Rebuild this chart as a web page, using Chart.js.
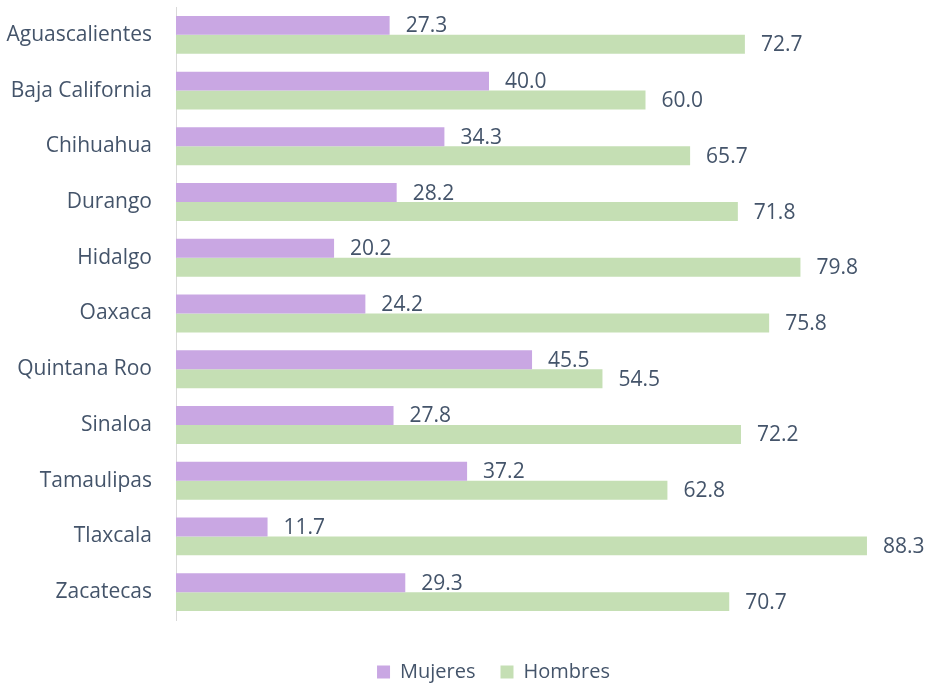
<!DOCTYPE html>
<html>
<head>
<meta charset="utf-8">
<script src="https://cdn.jsdelivr.net/npm/chart.js@4.4.0/dist/chart.umd.min.js"></script>
<style>
html,body{margin:0;padding:0;background:#fff;}
#wrap{width:928px;height:686px;position:relative;}
</style>
</head>
<body>
<div id="wrap"><canvas id="c" width="928" height="686"></canvas></div>
<script>
const categories = ["Aguascalientes","Baja California","Chihuahua","Durango","Hidalgo","Oaxaca","Quintana Roo","Sinaloa","Tamaulipas","Tlaxcala","Zacatecas"];
const mujeres = [27.3,40.0,34.3,28.2,20.2,24.2,45.5,27.8,37.2,11.7,29.3];
const hombres = [72.7,60.0,65.7,71.8,79.8,75.8,54.5,72.2,62.8,88.3,70.7];
const seriesNames = ["Mujeres","Hombres"];

const TEXT = '#44546A';
const FONT = "'Open Sans', 'Liberation Sans', sans-serif";

const labelPlugin = {
  id: 'valueLabels',
  afterLayout(chart) {
    const lg = chart.legend;
    lg.left = 59; lg.right = 928; lg.width = 869;
  },
  afterDatasetsDraw(chart) {
    const ctx = chart.ctx;
    ctx.save();
    ctx.font = '21px ' + FONT;
    ctx.fillStyle = TEXT;
    ctx.textAlign = 'left';
    ctx.textBaseline = 'middle';
    chart.data.datasets.forEach((ds, di) => {
      const meta = chart.getDatasetMeta(di);
      meta.data.forEach((el, i) => {
        ctx.fillText(ds.data[i].toFixed(1), el.x + 16, el.y + 1);
      });
    });
    ctx.restore();
  }
};

new Chart(document.getElementById('c'), {
  type: 'bar',
  data: {
    labels: categories,
    datasets: [
      { label: seriesNames[0], data: mujeres, backgroundColor: '#C9A7E3', borderWidth: 0 },
      { label: seriesNames[1], data: hombres, backgroundColor: '#C5DFB4', borderWidth: 0 }
    ]
  },
  options: {
    indexAxis: 'y',
    responsive: false,
    animation: false,
    layout: { padding: { left: 0, right: 0, top: 7, bottom: -6 } },
    datasets: { bar: { barPercentage: 1, categoryPercentage: 0.68 } },
    scales: {
      x: {
        display: true, min: 0, max: 96.1,
        afterFit: (s) => { s.height = 17; s.paddingLeft = 0; s.paddingRight = 0; s.paddingTop = 0; s.paddingBottom = 0; },
        ticks: { display: false },
        grid: { display: false, drawTicks: false },
        border: { display: false }
      },
      y: {
        afterFit: (s) => { s.width = 176; s.paddingTop = 0; s.paddingBottom = 0; s.paddingLeft = 0; s.paddingRight = 0; },
        grid: { display: false, drawTicks: false },
        border: { display: true, color: '#D9D9D9', width: 1 },
        ticks: { color: TEXT, font: { family: FONT, size: 21 }, padding: 24 }
      }
    },
    plugins: {
      legend: {
        position: 'bottom',
        labels: { color: TEXT, font: { family: FONT, size: 20 }, boxWidth: 13, boxHeight: 13, padding: 25 }
      },
      tooltip: { enabled: false }
    }
  },
  plugins: [labelPlugin]
});
</script>
</body>
</html>
